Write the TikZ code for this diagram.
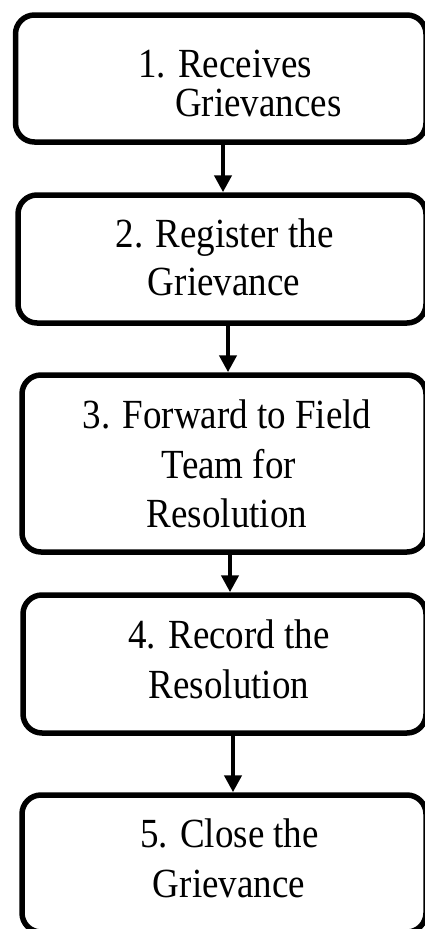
\documentclass[tikz,border=0pt]{standalone}
\usepackage{fontspec}
\setmainfont{Liberation Serif}
\usetikzlibrary{arrows.meta}
\newcommand{\tallt}[1]{\scalebox{1}[1.12]{#1}}
\begin{document}
\begin{tikzpicture}[x=1pt,y=-1pt,
  stepbox/.style={draw=black,line width=5.5pt,rounded corners=19pt,fill=white,inner sep=0pt},
  txt/.style={anchor=base,inner sep=0pt,font=\fontsize{37}{44}\selectfont},
  arr/.style={draw=black,line width=4.5pt,-{Triangle[length=17pt,width=17pt]}}]
\useasboundingbox (0,0) rectangle (425,929);
% boxes
\node[stepbox,minimum width=410.5pt,minimum height=127pt] (b1) at (220.75,78.5) {};
\node[stepbox,minimum width=408pt,minimum height=128pt] (b2) at (222,259) {};
\node[stepbox,minimum width=404pt,minimum height=177pt] (b3) at (224,463.5) {};
\node[stepbox,minimum width=403pt,minimum height=138pt] (b4) at (224.5,664) {};
\node[stepbox,minimum width=404pt,minimum height=137pt] (b5) at (224,863.5) {};
% texts
\node[txt,anchor=base west] (t1a) at (138,77) {\tallt{1. Receives}};
\node[txt,anchor=base west] (t1b) at (175,116) {\tallt{Grievances}};
\node[txt] (t2a) at (224.5,247) {\tallt{2. Register the}};
\node[txt] (t2b) at (224,295) {\tallt{Grievance}};
\node[txt] (t3a) at (227,428) {\tallt{3. Forward to Field}};
\node[txt] (t3b) at (229,478) {\tallt{Team for}};
\node[txt] (t3c) at (227,527) {\tallt{Resolution}};
\node[txt] (t4a) at (229,648) {\tallt{4. Record the}};
\node[txt] (t4b) at (229,698) {\tallt{Resolution}};
\node[txt] (t5a) at (229.5,847) {\tallt{5. Close the}};
\node[txt] (t5b) at (229,897) {\tallt{Grievance}};
% arrows
\coordinate (x1) at (223,0);
\coordinate (x2) at (228,0);
\coordinate (x3) at (230,0);
\coordinate (x4) at (233,0);
\draw[arr] (b1.south -| x1) -- (b2.north -| x1);
\draw[arr] (b2.south -| x2) -- (b3.north -| x2);
\draw[arr] (b3.south -| x3) -- (b4.north -| x3);
\draw[arr] (b4.south -| x4) -- (b5.north -| x4);
\end{tikzpicture}
\end{document}
